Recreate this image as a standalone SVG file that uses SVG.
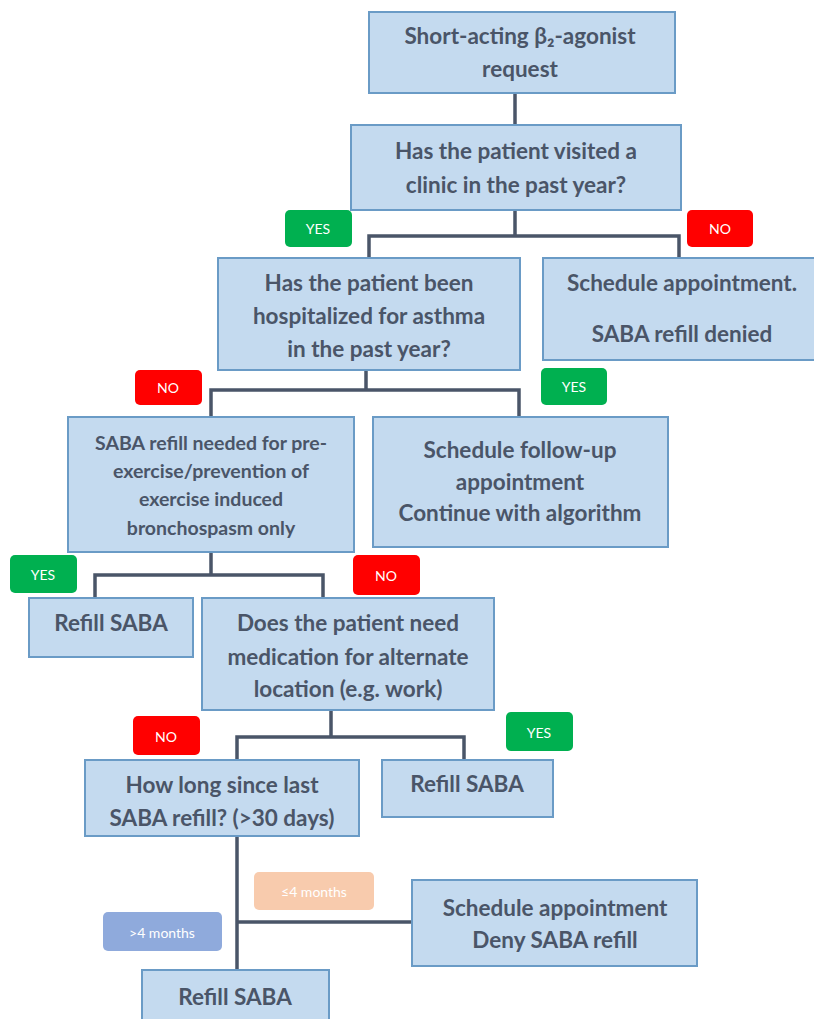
<svg xmlns="http://www.w3.org/2000/svg" width="814" height="1019" viewBox="0 0 814 1019">
<style>
.box{fill:#C4DAEF;stroke:#6A9BC6;stroke-width:2}
.t{font-family:Lato,"Open Sans",sans-serif;font-weight:bold;font-size:22.5px;fill:#4A5568;text-anchor:middle}
.s{font-size:19.5px}
.c{fill:none;stroke:#4A5568;stroke-width:3.5}
.bt{font-family:Lato,"Open Sans",sans-serif;font-size:14px;fill:#fff;text-anchor:middle}
.yes{fill:#00B050}
.no{fill:#FF0000}
</style>
<rect width="814" height="1019" fill="#fff"/>
<g id="connectors">
<path class="c" d="M515 93V125"/>
<path class="c" d="M515 210V236M369 258V236H679V258"/>
<path class="c" d="M366 370V390M211 417V390H519V417"/>
<path class="c" d="M211 552V575M95 598V575H323V598"/>
<path class="c" d="M331 710V737M237 760V737H464V760"/>
<path class="c" d="M237 836V970M237 922H411"/>
</g>
<g id="n1"><rect class="box" x="369" y="12" width="306" height="81"/><text class="t" x="520" y="44">Short-acting β₂-agonist</text><text class="t" x="520" y="77">request</text></g>
<g id="n2"><rect class="box" x="351" y="125" width="330" height="85"/><text class="t" x="516" y="159">Has the patient visited a</text><text class="t" x="516" y="193">clinic in the past year?</text></g>
<g id="b1"><rect class="yes" x="285" y="210" width="67" height="37" rx="5"/><text class="bt" x="318" y="234">YES</text></g>
<g id="b2"><rect class="no" x="687" y="210" width="66" height="37" rx="5"/><text class="bt" x="720" y="234">NO</text></g>
<g id="n3"><rect class="box" x="218" y="258" width="302" height="112"/><text class="t" x="369" y="291">Has the patient been</text><text class="t" x="369" y="324">hospitalized for asthma</text><text class="t" x="369" y="357">in the past year?</text></g>
<g id="n4"><rect class="box" x="543" y="258" width="275" height="102"/><text class="t" x="682" y="291">Schedule appointment.</text><text class="t" x="682" y="342">SABA refill denied</text></g>
<g id="b3"><rect class="no" x="135" y="370" width="67" height="35" rx="5"/><text class="bt" x="168" y="393">NO</text></g>
<g id="b4"><rect class="yes" x="541" y="368" width="66" height="37" rx="5"/><text class="bt" x="574" y="392">YES</text></g>
<g id="n5"><rect class="box" x="68" y="417" width="286" height="135"/><text class="t s" x="211" y="450">SABA refill needed for pre-</text><text class="t s" x="211" y="478">exercise/prevention of</text><text class="t s" x="211" y="506">exercise induced</text><text class="t s" x="211" y="535">bronchospasm only</text></g>
<g id="n6"><rect class="box" x="373" y="417" width="295" height="130"/><text class="t" x="520" y="458">Schedule follow-up</text><text class="t" x="520" y="490">appointment</text><text class="t" x="520" y="521">Continue with algorithm</text></g>
<g id="b5"><rect class="yes" x="10" y="555" width="67" height="38" rx="5"/><text class="bt" x="43" y="580">YES</text></g>
<g id="b6"><rect class="no" x="353" y="555" width="67" height="40" rx="5"/><text class="bt" x="386" y="581">NO</text></g>
<g id="n7"><rect class="box" x="29" y="598" width="164" height="59"/><text class="t" x="111" y="631">Refill SABA</text></g>
<g id="n8"><rect class="box" x="202" y="598" width="292" height="112"/><text class="t" x="348" y="631">Does the patient need</text><text class="t" x="348" y="665">medication for alternate</text><text class="t" x="348" y="697">location (e.g. work)</text></g>
<g id="b7"><rect class="no" x="133" y="716" width="67" height="39" rx="5"/><text class="bt" x="166" y="742">NO</text></g>
<g id="b8"><rect class="yes" x="506" y="712" width="67" height="39" rx="5"/><text class="bt" x="539" y="738">YES</text></g>
<g id="n9"><rect class="box" x="85" y="760" width="274" height="76"/><text class="t" x="222" y="793">How long since last</text><text class="t" x="222" y="826">SABA refill? (&gt;30 days)</text></g>
<g id="n10"><rect class="box" x="382" y="760" width="171" height="57"/><text class="t" x="467" y="792">Refill SABA</text></g>
<g id="b9"><rect fill="#F8CBAD" x="254" y="872" width="120" height="38" rx="5"/><text class="bt" x="314" y="897">≤4 months</text></g>
<g id="b10"><rect fill="#8FAADC" x="103" y="912" width="119" height="39" rx="5"/><text class="bt" x="162" y="938">&gt;4 months</text></g>
<g id="n11"><rect class="box" x="412" y="880" width="285" height="86"/><text class="t" x="555" y="916">Schedule appointment</text><text class="t" x="555" y="948">Deny SABA refill</text></g>
<g id="n12"><rect class="box" x="142" y="970" width="187" height="60"/><text class="t" x="235" y="1005">Refill SABA</text></g>
</svg>
